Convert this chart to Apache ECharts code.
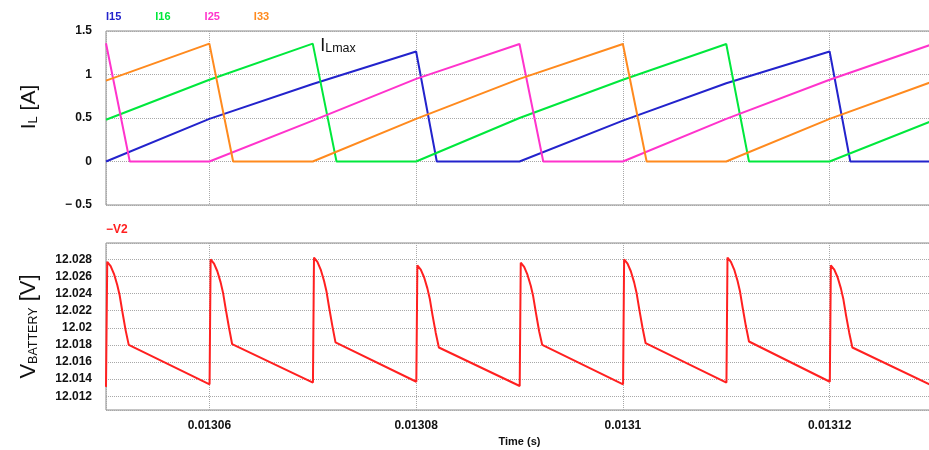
<!DOCTYPE html>
<html>
<head>
<meta charset="utf-8">
<script src="https://cdn.jsdelivr.net/npm/echarts@6/dist/echarts.min.js"></script>
<style>
  html, body { margin: 0; padding: 0; background: #ffffff; }
  #chart { width: 929px; height: 450px; }
</style>
</head>
<body>
<div id="chart"></div>
<script>
// Phase inductor currents, [time (s), current (A)]
const i15 = [[0.01305, 0], [0.01306, 0.49], [0.01307, 0.89], [0.01308, 1.265], [0.013082, 0],
  [0.01309, 0], [0.0131, 0.47], [0.01311, 0.9], [0.01312, 1.265], [0.013122, 0], [0.01313, 0]];
const i16 = [[0.01305, 0.48], [0.01306, 0.94], [0.01307, 1.355], [0.0130723, 0], [0.01308, 0],
  [0.01309, 0.5], [0.0131, 0.94], [0.01311, 1.35], [0.0131122, 0], [0.01312, 0], [0.01313, 0.47]];
const i25 = [[0.01305, 1.36], [0.0130523, 0], [0.01306, 0], [0.01307, 0.47], [0.01308, 0.95],
  [0.01309, 1.35], [0.0130923, 0], [0.0131, 0], [0.01311, 0.49], [0.01312, 0.94], [0.01313, 1.35]];
const i33 = [[0.01305, 0.93], [0.01306, 1.355], [0.0130623, 0], [0.01307, 0], [0.01308, 0.49],
  [0.01309, 0.95], [0.0131, 1.35], [0.0131023, 0], [0.01311, 0], [0.01312, 0.49], [0.01313, 0.92]];

// Battery voltage V2, [time (s), voltage (V)]
const v2 = [
  [0.01305000, 12.0131], [0.01305012, 12.0277], [0.01305045, 12.0272], [0.01305077, 12.0263], [0.01305109, 12.0250],
  [0.01305132, 12.0238], [0.01305158, 12.0219], [0.01305190, 12.0197], [0.01305220, 12.0180],
  [0.01306002, 12.0134], [0.01306012, 12.0280], [0.01306045, 12.0275], [0.01306077, 12.0266], [0.01306109, 12.0253],
  [0.01306132, 12.0241], [0.01306158, 12.0222], [0.01306190, 12.0200], [0.01306220, 12.0181],
  [0.01307002, 12.0136], [0.01307012, 12.0282], [0.01307045, 12.0277], [0.01307077, 12.0268], [0.01307109, 12.0255],
  [0.01307132, 12.0243], [0.01307158, 12.0224], [0.01307190, 12.0202], [0.01307220, 12.0183],
  [0.01308002, 12.0137], [0.01308012, 12.0273], [0.01308045, 12.0268], [0.01308077, 12.0259], [0.01308109, 12.0246],
  [0.01308132, 12.0234], [0.01308158, 12.0215], [0.01308190, 12.0194], [0.01308220, 12.0177],
  [0.01309002, 12.0132], [0.01309012, 12.0276], [0.01309045, 12.0271], [0.01309077, 12.0262], [0.01309109, 12.0249],
  [0.01309132, 12.0237], [0.01309158, 12.0218], [0.01309190, 12.0196], [0.01309220, 12.0180],
  [0.01310002, 12.0134], [0.01310012, 12.0280], [0.01310045, 12.0275], [0.01310077, 12.0266], [0.01310109, 12.0253],
  [0.01310132, 12.0241], [0.01310158, 12.0222], [0.01310190, 12.0200], [0.01310220, 12.0182],
  [0.01311002, 12.0136], [0.01311012, 12.0282], [0.01311045, 12.0277], [0.01311077, 12.0268], [0.01311109, 12.0255],
  [0.01311132, 12.0243], [0.01311158, 12.0224], [0.01311190, 12.0202], [0.01311220, 12.0184],
  [0.01312002, 12.0137], [0.01312012, 12.0273], [0.01312045, 12.0268], [0.01312077, 12.0259], [0.01312109, 12.0246],
  [0.01312132, 12.0234], [0.01312158, 12.0215], [0.01312190, 12.0194], [0.01312220, 12.0177],
  [0.01313000, 12.0132]
];

// Peak marker on I16
const iLmaxPoint = [0.01307, 1.355];

// Tick values and their printed labels
const timeTicks = [0.01306, 0.01308, 0.0131, 0.01312];
const timeTickLabels = ['0.01306', '0.01308', '0.0131', '0.01312'];
const currentTicks = [-0.5, 0, 0.5, 1, 1.5];
const currentTickLabels = ['\u2212 0.5', '0', '0.5', '1', '1.5'];
const voltageTicks = [12.012, 12.014, 12.016, 12.018, 12.02, 12.022, 12.024, 12.026, 12.028];
const voltageTickLabels = ['12.012', '12.014', '12.016', '12.018', '12.02', '12.022', '12.024', '12.026', '12.028'];

const currentNames = ['I15', 'I16', 'I25', 'I33'];
const currentData = [i15, i16, i25, i33];
const colors = { I15: '#2323cc', I16: '#00e83c', I25: '#ff33cc', I33: '#ff8a1e', V2: '#ff2020' };

const FONT = '"Liberation Sans", Arial, sans-serif';
const tickText = { fontFamily: FONT, fontWeight: 'bold', fontSize: 12, color: '#111' };
const gridLine = { show: true, lineStyle: { type: 'dotted', color: '#a8a8a8', width: 1 } };

function labelFrom(ticks, labels, tol) {
  return function (v) {
    const i = ticks.findIndex(function (t) { return Math.abs(t - v) < tol; });
    return i < 0 ? '' : labels[i];
  };
}

function timeAxis(gridIndex, showLabels) {
  return {
    type: 'value', gridIndex: gridIndex,
    min: 0.01305, max: 0.01313,
    minInterval: 0.00002, maxInterval: 0.00002, splitNumber: 4,
    axisLine: { show: false }, axisTick: { show: false },
    axisLabel: Object.assign({ show: showLabels, margin: 10,
      formatter: labelFrom(timeTicks, timeTickLabels, 1e-9) }, tickText),
    splitLine: gridLine,
    name: showLabels ? 'Time (s)' : '',
    nameLocation: 'middle', nameGap: 26,
    nameTextStyle: { fontFamily: FONT, fontWeight: 'bold', fontSize: 11, color: '#111' }
  };
}

const chart = echarts.init(document.getElementById('chart'), null, { renderer: 'canvas' });

const series = currentNames.map(function (name, k) {
  const s = {
    name: name, type: 'line', xAxisIndex: 0, yAxisIndex: 0,
    data: currentData[k], symbol: 'none', animation: false,
    lineStyle: { width: 2, color: colors[name] }, itemStyle: { color: colors[name] }
  };
  if (name === 'I16') {
    s.markPoint = {
      symbol: 'circle', symbolSize: 1, itemStyle: { color: 'rgba(0,0,0,0)' },
      data: [{ coord: iLmaxPoint }],
      label: {
        show: true, position: 'right', distance: 7, offset: [0, 2],
        formatter: '{m|I}{s|Lmax}',
        rich: {
          m: { fontFamily: FONT, fontSize: 18, color: '#111', verticalAlign: 'bottom' },
          s: { fontFamily: FONT, fontSize: 12.5, color: '#111', verticalAlign: 'bottom' }
        }
      }
    };
  }
  return s;
});
series.push({
  name: 'V2', type: 'line', xAxisIndex: 1, yAxisIndex: 1,
  data: v2, symbol: 'none', animation: false,
  lineStyle: { width: 2, color: colors.V2 }, itemStyle: { color: colors.V2 }
});

chart.setOption({
  animation: false,
  backgroundColor: '#ffffff',
  legend: [
    {
      left: 96, top: 6, icon: 'none', itemWidth: 0, itemHeight: 11, itemGap: 29,
      selectedMode: false,
      textStyle: { fontFamily: FONT, fontWeight: 'bold', fontSize: 11 },
      data: currentNames.map(function (n) { return { name: n, textStyle: { color: colors[n] } }; })
    },
    {
      left: 96, top: 219, icon: 'none', itemWidth: 0, itemHeight: 11,
      selectedMode: false, formatter: '\u2212{name}',
      textStyle: { fontFamily: FONT, fontWeight: 'bold', fontSize: 12 },
      data: [{ name: 'V2', textStyle: { color: colors.V2 } }]
    }
  ],
  grid: [
    { left: 106, top: 31, width: 827, height: 174, show: true, borderColor: '#8a8a8a', borderWidth: 1,
      outerBoundsMode: 'none', containLabel: false },
    { left: 106, top: 243, width: 827, height: 167, show: true, borderColor: '#8a8a8a', borderWidth: 1,
      outerBoundsMode: 'none', containLabel: false }
  ],
  xAxis: [timeAxis(0, false), timeAxis(1, true)],
  yAxis: [
    {
      type: 'value', gridIndex: 0, min: -0.5, max: 1.5, interval: 0.5,
      axisLine: { show: false }, axisTick: { show: false },
      axisLabel: Object.assign({ margin: 14, formatter: labelFrom(currentTicks, currentTickLabels, 1e-9) }, tickText),
      splitLine: gridLine,
      name: '{m|I}{s|L}{m| [A]}', nameLocation: 'middle', nameRotate: 90, nameGap: 66,
      nameTextStyle: {
        padding: [0, 0, 0, 22],
        rich: {
          m: { fontFamily: FONT, fontSize: 21, color: '#111', verticalAlign: 'bottom' },
          s: { fontFamily: FONT, fontSize: 13, color: '#111', verticalAlign: 'bottom' }
        }
      }
    },
    {
      type: 'value', gridIndex: 1, min: 12.0104, max: 12.0299,
      minInterval: 0.002, maxInterval: 0.002, splitNumber: 10,
      axisLine: { show: false }, axisTick: { show: false },
      axisLabel: Object.assign({ margin: 14, formatter: labelFrom(voltageTicks, voltageTickLabels, 1e-7) }, tickText),
      splitLine: gridLine,
      name: '{m|V}{s|BATTERY}{m| [V]}', nameLocation: 'middle', nameRotate: 90, nameGap: 66,
      nameTextStyle: {
        rich: {
          m: { fontFamily: FONT, fontSize: 22, color: '#111', verticalAlign: 'bottom' },
          s: { fontFamily: FONT, fontSize: 12.5, color: '#111', verticalAlign: 'bottom' }
        }
      }
    }
  ],
  series: series
});
</script>
</body>
</html>
